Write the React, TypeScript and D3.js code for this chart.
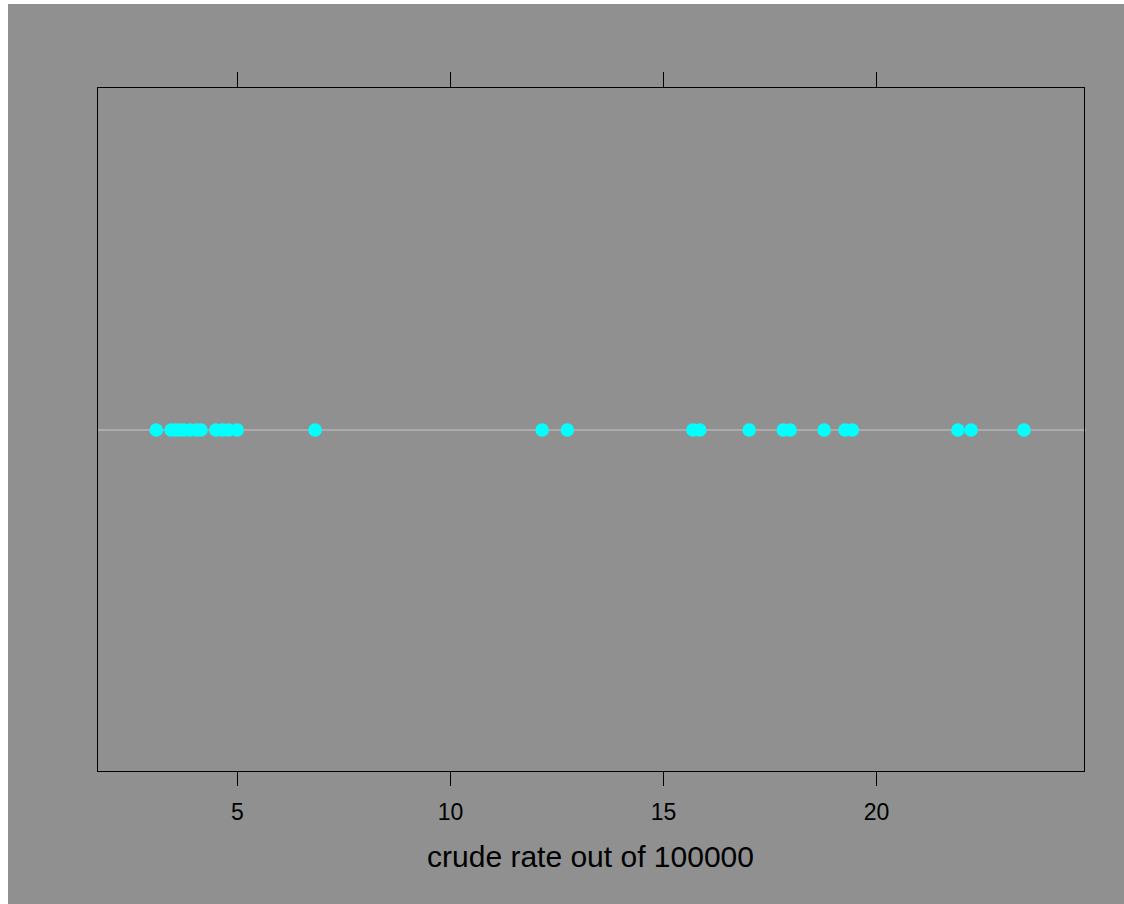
import React, { useEffect, useRef } from "react";
import * as d3 from "d3";

const rates = [
  3.1, 3.45, 3.55, 3.65, 3.75, 3.9, 4.05, 4.15, 4.5, 4.65, 4.8, 5.0, 6.83,
  12.16, 12.75, 15.7, 15.86, 17.02, 17.82, 17.98, 18.78, 19.27, 19.44,
  21.92, 22.23, 23.47,
];
const tickValues = [5, 10, 15, 20];
const xLabel = "crude rate out of 100000";

const W = 1116;
const H = 900;
// svg sits at (8,4) on the page
const left = 89;
const right = 1076;
const top = 83;
const bottom = 767;

const App = () => {
  const ref = useRef(null);

  useEffect(() => {
    const svg = d3.select(ref.current);
    svg.selectAll("*").remove();

    const x = d3.scaleLinear().domain([1.71, 24.88]).range([left, right]);
    const yMid = (top + bottom) / 2 + 1;

    svg.append("rect").attr("width", W).attr("height", H).attr("fill", "#909090");

    svg.append("line")
      .attr("x1", left).attr("x2", right + 2)
      .attr("y1", yMid).attr("y2", yMid)
      .attr("stroke", "#b4b4b4").attr("stroke-width", 1.5);

    svg.append("g")
      .selectAll("circle")
      .data(rates)
      .enter()
      .append("circle")
      .attr("cx", d => x(d))
      .attr("cy", yMid)
      .attr("r", 6.8)
      .attr("fill", "#00ffff");

    svg.append("rect")
      .attr("x", left + 0.5).attr("y", top + 0.5)
      .attr("width", right - left).attr("height", bottom - top)
      .attr("fill", "none").attr("stroke", "black").attr("stroke-width", 1);

    const ticks = svg.append("g");
    tickValues.forEach(v => {
      const tx = Math.round(x(v)) + 0.5;
      ticks.append("line")
        .attr("x1", tx).attr("x2", tx)
        .attr("y1", bottom).attr("y2", bottom + 15)
        .attr("stroke", "black");
      ticks.append("line")
        .attr("x1", tx).attr("x2", tx)
        .attr("y1", top - 15).attr("y2", top)
        .attr("stroke", "black");
      ticks.append("text")
        .attr("x", tx).attr("y", bottom + 49)
        .attr("text-anchor", "middle")
        .style("font-family", "Liberation Sans, Arial, sans-serif")
        .style("font-size", "23px")
        .text(v);
    });

    svg.append("text")
      .attr("x", (left + right) / 2).attr("y", bottom + 96)
      .attr("text-anchor", "middle")
      .style("font-family", "Liberation Sans, Arial, sans-serif")
      .style("font-size", "30px")
      .text(xLabel);
  }, []);

  return (
    <svg
      ref={ref}
      width={W}
      height={H}
      style={{ position: "absolute", left: 8, top: 4, display: "block" }}
    />
  );
};

export default App;
